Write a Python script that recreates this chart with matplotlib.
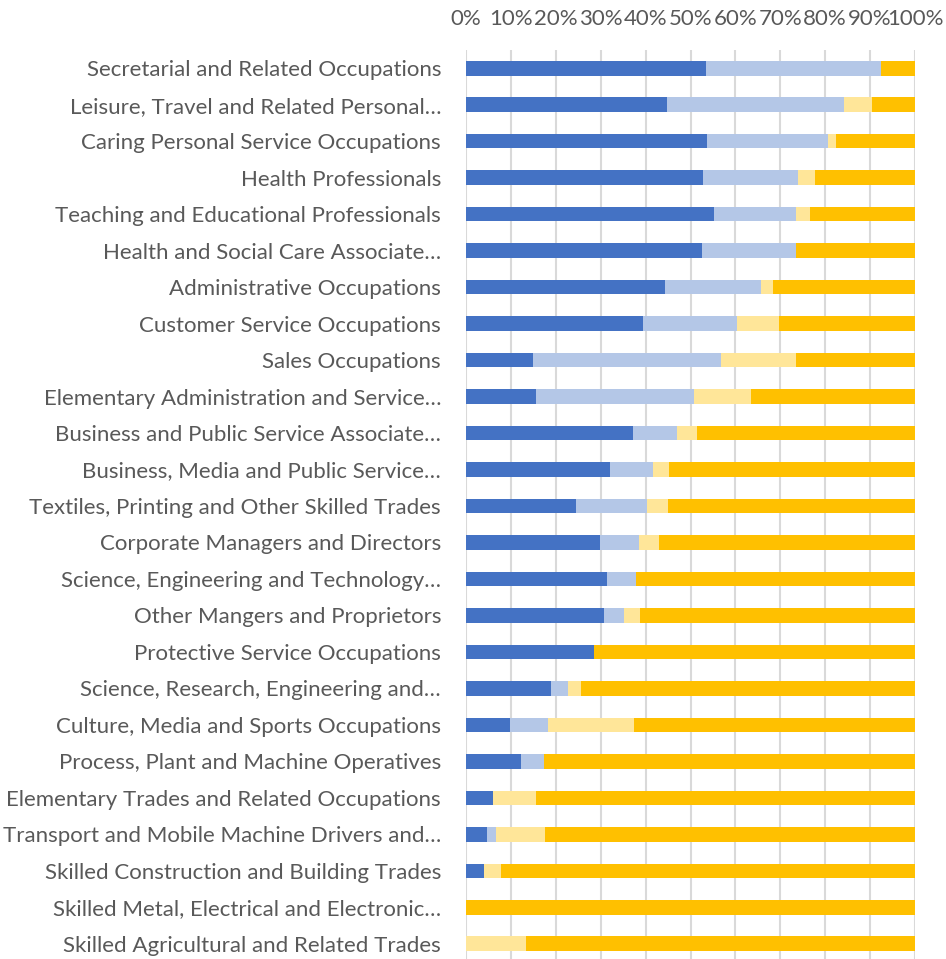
import matplotlib
matplotlib.use("Agg")
import matplotlib.pyplot as plt
import numpy as np

# occupations, top to bottom, with the share (%) in each of the four groups
categories = [
    "Secretarial and Related Occupations",
    "Leisure, Travel and Related Personal…",
    "Caring Personal Service Occupations",
    "Health Professionals",
    "Teaching and Educational Professionals",
    "Health and Social Care Associate…",
    "Administrative Occupations",
    "Customer Service Occupations",
    "Sales Occupations",
    "Elementary Administration and Service…",
    "Business and Public Service Associate…",
    "Business, Media and Public Service…",
    "Textiles, Printing and Other Skilled Trades",
    "Corporate Managers and Directors",
    "Science, Engineering and Technology…",
    "Other Mangers and Proprietors",
    "Protective Service Occupations",
    "Science, Research, Engineering and…",
    "Culture, Media and Sports Occupations",
    "Process, Plant and Machine Operatives",
    "Elementary Trades and Related Occupations",
    "Transport and Mobile Machine Drivers and…",
    "Skilled Construction and Building Trades",
    "Skilled Metal, Electrical and Electronic…",
    "Skilled Agricultural and Related Trades",
]
dark_blue = [53.5, 44.7, 53.7, 52.7, 55.3, 52.6, 44.3, 39.5, 15.0, 15.5, 37.2, 32.1, 24.5,
             29.9, 31.3, 30.8, 28.6, 19.0, 9.7, 12.2, 6.0, 4.6, 3.9, 0, 0]
light_blue = [39.0, 39.5, 26.9, 21.2, 18.3, 21.0, 21.4, 20.9, 41.7, 35.3, 9.8, 9.5, 15.9,
              8.7, 6.5, 4.4, 0, 3.8, 8.5, 5.2, 0, 2.0, 0, 0, 0]
pale_yellow = [0, 6.2, 1.9, 3.8, 3.0, 0, 2.6, 9.3, 16.7, 12.7, 4.5, 3.7, 4.5,
               4.4, 0, 3.5, 0, 2.8, 19.2, 0, 9.5, 11.0, 4.0, 0, 13.3]
gold = [7.5, 9.6, 17.5, 22.3, 23.4, 26.4, 31.7, 30.3, 26.6, 36.5, 48.5, 54.7, 55.1,
        57.0, 62.2, 61.3, 71.4, 74.4, 62.6, 82.6, 84.5, 82.4, 92.1, 100, 86.7]
x_ticks = [0, 10, 20, 30, 40, 50, 60, 70, 80, 90, 100]

series = [dark_blue, light_blue, pale_yellow, gold]
colors = ["#4472C4", "#B4C7E7", "#FFE699", "#FFC000"]

fig = plt.figure(figsize=(9.46, 9.59), dpi=100)
ax = fig.add_axes([466 / 946, -3 / 959, 449 / 946, 912 / 959])

y = np.arange(len(categories))
left = np.zeros(len(categories))
for vals, col in zip(series, colors):
    vals = np.array(vals, dtype=float)
    ax.barh(y, vals, left=left, height=0.4, color=col, zorder=3)
    left += vals

ax.set_xlim(0, 100)
ax.set_ylim(len(categories) - 0.5, -0.5)
ax.set_xticks(x_ticks)
ax.set_xticklabels([f"{t}%" for t in x_ticks])
ax.xaxis.tick_top()
ax.set_yticks(y)
ax.set_yticklabels(categories)
ax.tick_params(axis="both", length=0, labelcolor="#595959", labelsize=16)
ax.tick_params(axis="y", pad=18)
ax.tick_params(axis="x", pad=15)
for lab in ax.get_xticklabels() + ax.get_yticklabels():
    lab.set_family("Lato")
ax.grid(axis="x", color="#D9D9D9", linewidth=1.5, zorder=0)
for s in ax.spines.values():
    s.set_visible(False)

fig.savefig("out.png", dpi=100)
